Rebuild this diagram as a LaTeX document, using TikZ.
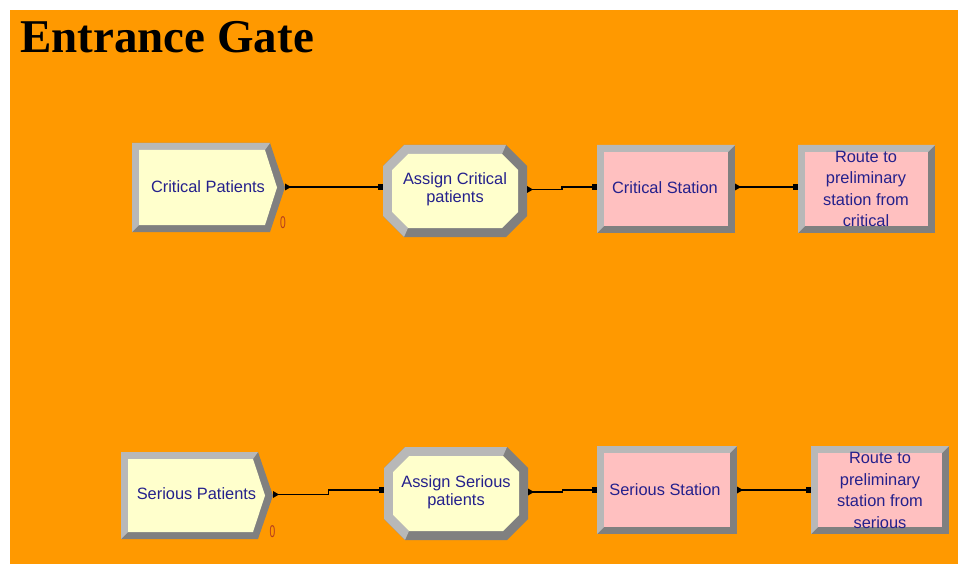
\documentclass[tikz,border=0pt]{standalone}
\usepackage{fontspec}
\setmainfont{Liberation Sans}
\newfontfamily\titlefont{Liberation Serif}
\usepackage{graphicx}
\usetikzlibrary{calc}
\definecolor{bg}{RGB}{255,153,0}
\definecolor{bevlightc}{RGB}{184,184,184}
\definecolor{bevdarkc}{RGB}{128,128,128}
\definecolor{modyellow}{RGB}{255,255,204}
\definecolor{modpink}{RGB}{255,192,192}
\definecolor{txtblue}{RGB}{36,32,140}
\definecolor{cntred}{RGB}{180,60,30}

\tikzset{
  lbl/.style={text=txtblue, font=\fontsize{16.4}{21.5}\selectfont, align=center, inner sep=0pt},
  lbltwo/.style={lbl, font=\fontsize{16.4}{18}\selectfont},
  cnt/.style={text=cntred, font=\fontsize{17}{17}\selectfont, inner sep=0pt},
  titlestyle/.style={text=black, font=\titlefont\bfseries\fontsize{47}{47}\selectfont, inner sep=0pt},
  conn/.style={line width=1.4pt, draw=black},
  bevdark/.style={fill=bevdarkc},
  bevlight/.style={fill=bevlightc},
}

% bevelled rectangle: x1 y1 x2 y2 fill
\newcommand\bevrect[5]{%
  \fill[bevdark] (#1,#2) rectangle (#3,#4);
  \fill[bevlight] (#1,#2) -- (#3,#2) -- (#3-7,#2+7) -- (#1+7,#2+7) -- (#1+7,#4-7) -- (#1,#4) -- cycle;
  \fill[#5] (#1+7,#2+7) rectangle (#3-7,#4-7);
}
% bevelled octagon: x1 y1 x2 y2 fill
\newcommand\bevoct[5]{%
  \fill[bevdark] (#1+21,#2) -- (#3-21,#2) -- (#3,#2+21) -- (#3,#4-21) -- (#3-21,#4) -- (#1+21,#4) -- (#1,#4-21) -- (#1,#2+21) -- cycle;
  \fill[bevlight] (#3-21,#2) -- (#1+21,#2) -- (#1,#2+21) -- (#1,#4-21) -- (#1+21,#4)
     -- (#1+9+16,#4-9) -- (#1+9,#4-9-16) -- (#1+9,#2+9+16) -- (#1+9+16,#2+9) -- (#3-9-16,#2+9) -- cycle;
  \fill[#5] (#1+9+16,#2+9) -- (#3-9-16,#2+9) -- (#3-9,#2+9+16) -- (#3-9,#4-9-16) -- (#3-9-16,#4-9) -- (#1+9+16,#4-9) -- (#1+9,#4-9-16) -- (#1+9,#2+9+16) -- cycle;
}
% bevelled create pentagon: x1 y1 xr xp y2
\newcommand\bevcreate[5]{%
  \fill[bevdark] (#1,#2) -- (#3,#2) -- (#4,{(#2+#5)/2}) -- (#3,#5) -- (#1,#5) -- cycle;
  \fill[bevlight] (#3,#2) -- (#1,#2) -- (#1,#5) -- (#1+7,#5-7) -- (#1+7,#2+7) -- (#3-5,#2+7) -- cycle;
  \fill[modyellow] (#1+7,#2+7) -- (#3-5,#2+7) -- (#4-8,{(#2+#5)/2}) -- (#3-5,#5-7) -- (#1+7,#5-7) -- cycle;
}
\newcommand\portout[1]{\fill (#1) ++(0,-3.5) -- ++(6,3.5) -- ++(-6,3.5) -- cycle;}
\newcommand\portin[1]{\fill ($(#1)+(-5.5,-2.8)$) rectangle ($(#1)+(0,2.8)$);}

\begin{document}
\begin{tikzpicture}[x=1pt,y=-1pt]
\useasboundingbox (0,0) rectangle (958,564);
\fill[white] (0,0) rectangle (958,564);
\fill[bg] (10,10) rectangle (958,564);
\node[titlestyle, anchor=base west] (title) at (20,53) {Entrance Gate};

% ---- row 1
\bevcreate{132}{143}{270}{285}{232}
\node[lbl] (cpat) at (208,187) {Critical Patients};
\node[cnt] (cpatn) at (283,223) {\scalebox{0.6}[1]{0}};
\bevoct{383}{145}{527}{237}{modyellow}
\node[lbltwo] (acrit) at (455,189) {Assign Critical\\patients};
\bevrect{597}{145}{735}{233}{modpink}
\node[lbl] (cstat) at (665,188) {Critical Station};
\bevrect{798}{145}{935}{233}{modpink}
\node[lbl] (rcrit) at (866,189) {Route to\\preliminary\\station from\\critical};

\coordinate (cpat-out) at (285,187);
\coordinate (acrit-in) at (383,187);
\coordinate (acrit-out) at (527,189.5);
\coordinate (cstat-in) at (597,187);
\coordinate (cstat-out) at (735,187);
\coordinate (rcrit-in) at (798,187);

\draw[conn] (cpat-out) -- (acrit-in);
\draw[conn] (acrit-out) -| ($(acrit-out)!0.5!(cstat-in)$) |- (cstat-in);
\draw[conn] (cstat-out) -- (rcrit-in);
\portout{cpat-out}\portin{acrit-in}
\portout{acrit-out}\portin{cstat-in}
\portout{cstat-out}\portin{rcrit-in}

% ---- row 2
\bevcreate{121}{452}{258}{273}{539}
\node[lbl] (spat) at (196.5,494) {Serious Patients};
\node[cnt] (spatn) at (272.5,532) {\scalebox{0.6}[1]{0}};
\bevoct{384}{447}{528}{540}{modyellow}
\node[lbltwo] (aser) at (456,492) {Assign Serious\\patients};
\bevrect{597}{446}{737}{534}{modpink}
\node[lbl] (sstat) at (665,490) {Serious Station};
\bevrect{811}{446}{949}{534}{modpink}
\node[lbl] (rser) at (880,490.5) {Route to\\preliminary\\station from\\serious};

\coordinate (spat-out) at (273,494.5);
\coordinate (aser-in) at (384,490);
\coordinate (aser-out) at (528,492);
\coordinate (sstat-in) at (597,490);
\coordinate (sstat-out) at (737,490);
\coordinate (rser-in) at (811,490);

\draw[conn] (spat-out) -| ($(spat-out)!0.5!(aser-in)$) |- (aser-in);
\draw[conn] (aser-out) -| ($(aser-out)!0.5!(sstat-in)$) |- (sstat-in);
\draw[conn] (sstat-out) -- (rser-in);
\portout{spat-out}\portin{aser-in}
\portout{aser-out}\portin{sstat-in}
\portout{sstat-out}\portin{rser-in}
\end{tikzpicture}
\end{document}
